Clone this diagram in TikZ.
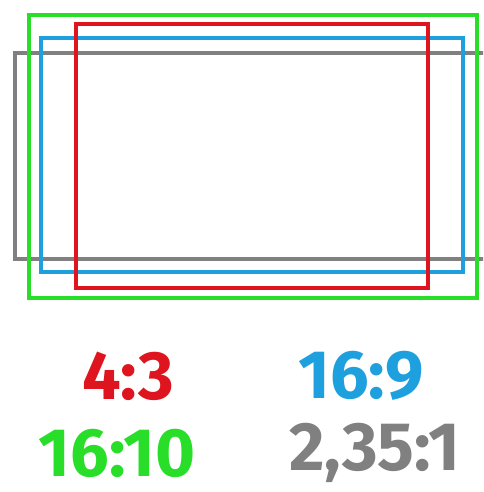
\documentclass[tikz,border=0pt]{standalone}
\usepackage{fontspec}
\setmainfont{Fira Sans}
\usepackage{tikz}
\definecolor{ratiored}{RGB}{222,20,30}
\definecolor{ratioblue}{RGB}{30,160,222}
\definecolor{ratiogreen}{RGB}{40,222,40}
\definecolor{ratiogray}{RGB}{128,128,128}
\tikzset{
  frame/.style={line width=2.6pt},
  ratio/.style={font=\fontsize{39}{39}\selectfont\bfseries, inner sep=0pt}
}

\begin{document}
\begin{tikzpicture}[x=0.02cm,y=-0.02cm]
\useasboundingbox (0,0) rectangle (483,492);
\begin{scope}
\clip (0,0) rectangle (483,492);
\draw[frame,ratiogray] (15,53) rectangle (495,259);
\draw[frame,ratiogreen] (29,15) rectangle (477,298);
\draw[frame,ratioblue] (41,38) rectangle (463,272);
\draw[frame,ratiored] (76,24) rectangle (428,288);
\end{scope}
\node[ratio,text=ratiored] (r43) at (128,376) {4:3};
\node[ratio,text=ratioblue] (r169) at (361,376) {16:9};
\node[ratio,text=ratiogreen] (r1610) at (117,453) {16:10};
\node[ratio,text=ratiogray] (r235) at (375,453) {2,35:1};
\end{tikzpicture}
\end{document}
